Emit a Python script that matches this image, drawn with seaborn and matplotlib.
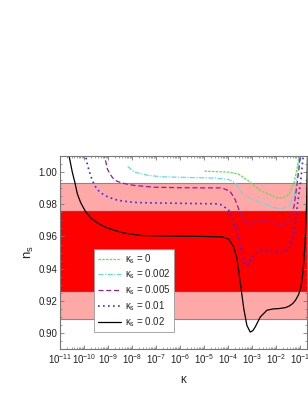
import numpy as np
import pandas as pd
import matplotlib
matplotlib.use("Agg")
import matplotlib.pyplot as plt
import seaborn as sns

# log10(kappa) and n_s, one pair of arrays per kappa_s
logk_0 = [-4.98, -4.5, -3.97, -3.56, -3.13, -2.86, -2.58, -2.16, -2.02, -1.74,
          -1.45, -1.24, -1.11, -1.01]
ns_0 = [1.0006, 1.0003, 1.0000, 0.9988, 0.9944, 0.9910, 0.9880, 0.9855, 0.9842,
        0.9838, 0.9861, 0.9934, 1.0030, 1.0120]

logk_002 = [-8.18, -7.90, -7.34, -6.78, -5.5, -4.5, -3.97, -3.70, -3.42, -3.13,
            -2.58, -2.02, -1.74, -1.45, -1.24, -1.11, -1.01]
ns_002 = [1.0035, 1.0000, 0.9980, 0.9971, 0.9966, 0.9963, 0.9954, 0.9934, 0.9871,
          0.9840, 0.9809, 0.9777, 0.9771, 0.9792, 0.9850, 0.9975, 1.0120]

logk_005 = [-9.18, -9.10, -9.02, -8.90, -8.81, -8.65, -8.46, -8.2, -7.90, -7.06,
            -6.0, -5.0, -4.26, -3.91, -3.70, -3.49, -3.28, -3.07, -2.85, -2.58,
            -2.35, -2.16, -1.81, -1.60, -1.45, -1.24, -1.11, -1.02, -0.98]
ns_005 = [1.0120, 1.0069, 1.0017, 0.9985, 0.9965, 0.9945, 0.9934, 0.9925, 0.9917,
          0.9906, 0.9903, 0.9902, 0.9902, 0.9881, 0.9830, 0.9746, 0.9694, 0.9677,
          0.9690, 0.9704, 0.9695, 0.9684, 0.9673, 0.9680, 0.9704, 0.9788, 0.9934,
          1.0040, 1.0120]

logk_01 = [-9.96, -9.85, -9.72, -9.58, -9.45, -9.30, -9.0, -8.60, -8.0, -7.62,
           -6.0, -4.5, -4.30, -3.98, -3.80, -3.64, -3.52, -3.42, -3.28, -3.18,
           -3.04, -2.90, -2.60, -2.16, -1.74, -1.55, -1.39, -1.24, -1.11, -0.97,
           -0.90, -0.85]
ns_01 = [1.0120, 1.0040, 0.9975, 0.9923, 0.9893, 0.9871, 0.9845, 0.9825, 0.9813,
         0.9810, 0.9806, 0.9803, 0.9798, 0.9767, 0.9710, 0.9642, 0.9560, 0.9496,
         0.9425, 0.9420, 0.9455, 0.9486, 0.9513, 0.9506, 0.9506, 0.9515, 0.9538,
         0.9620, 0.9788, 0.9940, 1.0040, 1.0120]

logk_02 = [-10.68, -10.63, -10.49, -10.38, -10.28, -10.14, -9.95, -9.72, -9.40,
           -9.02, -8.60, -8.32, -7.62, -6.5, -5.0, -4.26, -3.97, -3.77, -3.63,
           -3.49, -3.34, -3.21, -3.07, -2.96, -2.86, -2.65, -2.37, -2.10, -1.87,
           -1.60, -1.45, -1.30, -1.18, -1.05, -0.97, -0.90, -0.83, -0.77, -0.72,
           -0.68]
ns_02 = [1.0140, 1.0104, 1.0000, 0.9934, 0.9865, 0.9810, 0.9758, 0.9715, 0.9680,
         0.9652, 0.9632, 0.9621, 0.9606, 0.9602, 0.9600, 0.9598, 0.9584, 0.9538,
         0.9470, 0.9320, 0.9152, 0.9048, 0.9006, 0.9015, 0.9038, 0.9100, 0.9142,
         0.9150, 0.9152, 0.9158, 0.9167, 0.9183, 0.9204, 0.9240, 0.9277, 0.9340,
         0.9450, 0.9600, 0.9800, 1.0120]

# observational bands on n_s
band_1sigma = (0.926, 0.976)
band_2sigma = (0.909, 0.993)

series = [
    ("κ$_{\\rm s}$ = 0", logk_0, ns_0, "#5ee052", (0, (2, 1)), 0.9),
    ("κ$_{\\rm s}$ = 0.002", logk_002, ns_002, "#5fdede", (0, (4, 1.2, 1, 1.2)), 0.9),
    ("κ$_{\\rm s}$ = 0.005", logk_005, ns_005, "#9a1a9a", (0, (4, 2.2)), 0.9),
    ("κ$_{\\rm s}$ = 0.01", logk_01, ns_01, "#2a2aff", (0, (1, 2)), 1.2),
    ("κ$_{\\rm s}$ = 0.02", logk_02, ns_02, "black", "-", 0.9),
]

sns.set_style("ticks")
plt.rcParams["font.family"] = ["Liberation Sans", "DejaVu Sans"]
plt.rcParams["mathtext.fontset"] = "custom"
plt.rcParams["mathtext.rm"] = "Liberation Sans"
plt.rcParams["mathtext.it"] = "Liberation Sans:italic"
plt.rcParams["mathtext.sf"] = "Liberation Sans"

fig = plt.figure(figsize=(3.08, 3.99), dpi=100)
ax = fig.add_axes([0.195, 0.125, 0.802, 0.484])

ax.axhspan(*band_2sigma, facecolor="#ffa8a8", edgecolor="#888888", lw=0.8, zorder=0)
ax.axhspan(*band_1sigma, facecolor="#ff0000", edgecolor="#884444", lw=0.8, zorder=0)

for label, lk, ns, color, ls, lw in series:
    df = pd.DataFrame({"kappa": 10.0 ** np.array(lk), "ns": ns})
    sns.lineplot(data=df, x="kappa", y="ns", ax=ax, color=color, linestyle=ls,
                 linewidth=lw, label=label, sort=False, estimator=None)

ax.set_xscale("log")
ax.set_xlim(1e-11, 0.2)
ax.set_ylim(0.89, 1.01)
ax.set_xticks([10.0 ** e for e in range(-11, 0)])
ax.xaxis.set_minor_locator(matplotlib.ticker.LogLocator(base=10, subs=np.arange(2, 10), numticks=30))
ax.xaxis.set_minor_formatter(matplotlib.ticker.NullFormatter())
ax.set_yticks([0.90, 0.92, 0.94, 0.96, 0.98, 1.00])
ax.yaxis.set_minor_locator(matplotlib.ticker.MultipleLocator(0.005))
ax.yaxis.set_major_formatter(matplotlib.ticker.FormatStrFormatter("%.2f"))
ax.tick_params(which="both", direction="in", top=True, right=True, color="#777777",
               labelsize=7, labelcolor="#222222", pad=2)
ax.tick_params(which="major", length=3, width=0.6)
ax.tick_params(which="minor", length=1.5, width=0.5)
for s in ax.spines.values():
    s.set_color("#777777")
    s.set_linewidth(0.8)

ax.set_xlabel("κ", fontsize=8.5, labelpad=6)
ax.set_ylabel("n$_{\\rm s}$", fontsize=9.5, labelpad=2)

leg = ax.legend(loc="lower left", bbox_to_anchor=(0.138, 0.088), borderaxespad=0,
                fontsize=7, frameon=True, fancybox=False, framealpha=1,
                edgecolor="#999999", handlelength=2.4, labelspacing=0.2,
                borderpad=0.35, handletextpad=0.4)
leg.get_frame().set_linewidth(0.6)

fig.savefig("out.png", dpi=100)
